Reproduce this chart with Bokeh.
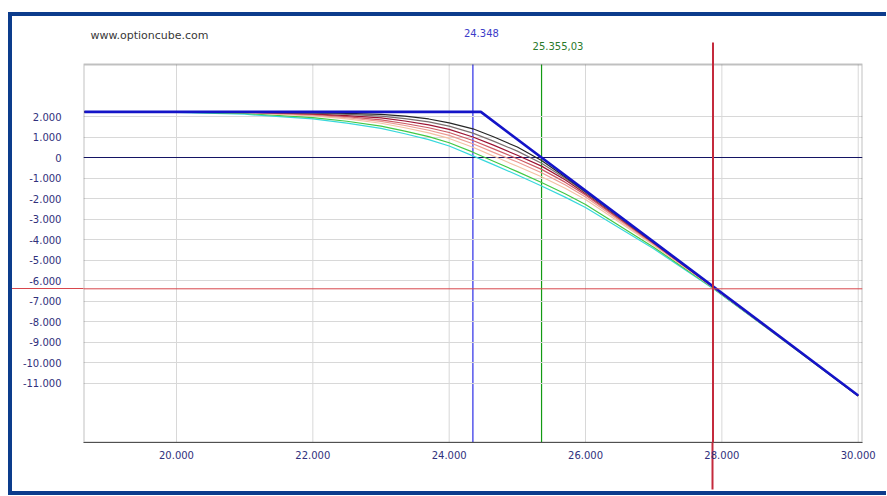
from bokeh.plotting import figure
from bokeh.models import Span, Label, BoxAnnotation, FixedTicker, Range1d, InlineStyleSheet
from bokeh.embed import file_html
from bokeh.resources import INLINE

# ---------------- data ----------------
x_ticks = [20000, 22000, 24000, 26000, 28000, 30000]
x_labels = ["20.000", "22.000", "24.000", "26.000", "28.000", "30.000"]
y_ticks = [2000, 1000, 0, -1000, -2000, -3000, -4000, -5000, -6000,
           -7000, -8000, -9000, -10000, -11000]
y_labels = ["2.000", "1.000", "0", "-1.000", "-2.000", "-3.000", "-4.000",
            "-5.000", "-6.000", "-7.000", "-8.000", "-9.000", "-10.000", "-11.000"]

spot = 24348
spot_label = "24.348"
breakeven = 25355.03
breakeven_label = "25.355,03"
cursor_x = 27870
cursor_y = -6405
site = "www.optioncube.com"

# payoff at expiry
expiry_x = [18650, 24465, 30000]
expiry_y = [2225, 2225, -11612]

# payoff curves before expiry (nearest to expiry first)
curve_x = [18650, 20000, 21000, 22000, 22500, 23000, 23350, 23700, 24000, 24348,
           24650, 25000, 25355, 25700, 26000, 27000, 27870, 29000, 30000]
curve_black = [2225, 2225, 2223, 2190, 2155, 2100, 2020, 1880, 1690, 1400,
               1010, 510, -150, -952, -1672, -4137, -6297, -9117, -11615]
curve_gray = [2225, 2225, 2220, 2160, 2100, 2020, 1900, 1740, 1530, 1190,
              800, 310, -280, -1012, -1712, -4152, -6301, -9120, -11617]
curve_darkred = [2225, 2224, 2217, 2130, 2045, 1930, 1780, 1590, 1370, 1000,
                 602, 110, -420, -1087, -1762, -4172, -6307, -9124, -11620]
curve_red = [2225, 2223, 2210, 2100, 1990, 1840, 1660, 1450, 1220, 830,
             420, -60, -580, -1202, -1832, -4197, -6315, -9128, -11622]
curve_salmon = [2225, 2222, 2205, 2070, 1940, 1760, 1560, 1330, 1080, 670,
                250, -222, -740, -1332, -1927, -4232, -6325, -9134, -11626]
curve_peach = [2225, 2220, 2190, 2030, 1880, 1670, 1450, 1200, 930, 500,
               70, -430, -940, -1502, -2052, -4277, -6337, -9142, -11630]
curve_green = [2225, 2215, 2150, 1950, 1770, 1530, 1290, 1020, 720, 260,
               -180, -690, -1220, -1767, -2292, -4377, -6362, -9152, -11634]
curve_cyan = [2225, 2205, 2110, 1880, 1680, 1420, 1160, 870, 560, 80,
              -348, -852, -1390, -1932, -2442, -4452, -6387, -9162, -11640]

curves = [
    (curve_cyan, "#38d8dc"),
    (curve_green, "#44c844"),
    (curve_peach, "#f4c2a4"),
    (curve_salmon, "#ec9a92"),
    (curve_red, "#cc5a64"),
    (curve_darkred, "#9c1434"),
    (curve_gray, "#7c7070"),
    (curve_black, "#262626"),
]

# ---------------- layout ----------------
W, H = 886, 495
FL, FR, FB = 83, 862, 442       # frame left / right / bottom (px); frame top = 0
PT = 64                          # top edge of the drawn plot box (px)
X0, X1 = 18636, 30063
Y_BOTTOM, Y_PLOT_TOP = -13902, 4537
UY = (Y_PLOT_TOP - Y_BOTTOM) / (FB - PT)   # data units per px (y)
UX = (X1 - X0) / (FR - FL)                 # data units per px (x)
Y1 = Y_PLOT_TOP + PT * UY

X_EXT = 47    # red cursor below the plot box (px)
Y_EXT = 72    # red cursor left of the plot box (px)


def dx(px):
    return X0 + (px - FL) * UX


def dy(py):
    return Y1 - py * UY


p = figure(width=W, height=H, x_range=Range1d(X0, X1), y_range=Range1d(Y_BOTTOM, Y1),
           output_backend="svg", toolbar_location=None,
           min_border_left=FL, min_border_right=W - FR,
           min_border_top=0, min_border_bottom=H - FB)
p.title.visible = False
p.background_fill_color = "white"
p.border_fill_color = "white"
p.outline_line_color = None

font = "DejaVu Sans"
axis_color = "#30307c"

p.xaxis.ticker = FixedTicker(ticks=x_ticks, minor_ticks=[cursor_x])
p.xaxis.major_label_overrides = {t: l for t, l in zip(x_ticks, x_labels)}
p.yaxis.ticker = FixedTicker(ticks=y_ticks, minor_ticks=[cursor_y])
p.yaxis.major_label_overrides = {t: l for t, l in zip(y_ticks, y_labels)}
for ax in (p.xaxis, p.yaxis):
    ax.major_tick_line_color = None
    ax.major_tick_in = 0
    ax.major_tick_out = 0
    ax.minor_tick_in = 0
    ax.major_label_text_font = font
    ax.major_label_text_font_size = "10px"
    ax.major_label_text_color = axis_color
    ax.axis_line_color = "#505050"
    ax.axis_line_width = 1
p.yaxis.axis_line_color = None
# red cursor extensions outside the plot box (as minor ticks)
p.xaxis.minor_tick_out = X_EXT
p.xaxis.minor_tick_line_color = "#c42a3c"
p.xaxis.minor_tick_line_width = 2
p.yaxis.minor_tick_out = Y_EXT
p.yaxis.minor_tick_line_color = "#d8464c"
p.yaxis.minor_tick_line_width = 1
# label offsets are measured from the longest tick, so compensate
p.xaxis.major_label_standoff = 8 - X_EXT
p.yaxis.major_label_standoff = 22 - Y_EXT

p.xgrid.visible = False
p.ygrid.grid_line_color = "#d8d8d8"
p.ygrid.grid_line_width = 1

# vertical grid lines limited to the plot box
p.segment(x0=x_ticks, y0=[Y_BOTTOM] * len(x_ticks), x1=x_ticks, y1=[Y_PLOT_TOP] * len(x_ticks),
          line_color="#d8d8d8", line_width=1, level="underlay")

# reference lines
p.add_layout(Span(location=0, dimension="width", line_color="#141464", line_width=1, level="underlay"))
p.segment(x0=[spot], y0=[Y_BOTTOM], x1=[spot], y1=[Y_PLOT_TOP], line_color="#2c2ce6",
          line_width=1.2, level="underlay")
p.segment(x0=[breakeven], y0=[Y_BOTTOM], x1=[breakeven], y1=[Y_PLOT_TOP], line_color="#139a13",
          line_width=1.2, level="underlay")

for ys, c in curves:
    p.line(curve_x, ys, line_color=c, line_width=1.2)

p.line(expiry_x, expiry_y, line_color="#1414c8", line_width=2.6)

# plot box
p.add_layout(BoxAnnotation(left=X0, right=X1, top=Y_PLOT_TOP, bottom=Y_BOTTOM,
                           fill_alpha=0, line_color="#303030", line_width=2, level="underlay"))

# cursor cross
p.add_layout(BoxAnnotation(left=cursor_x - 1.0 * UX, right=cursor_x + 1.0 * UX,
                           top=dy(42), bottom=Y_BOTTOM, fill_color="#c42a3c", fill_alpha=1,
                           line_color=None))
p.add_layout(Span(location=cursor_y, dimension="width", line_color="#d8464c", line_width=1))

# texts
p.add_layout(Label(x=dx(90), y=dy(35), text=site, text_font=font, text_font_size="11px",
                   text_color="#383838", text_baseline="middle", text_align="left"))
p.add_layout(Label(x=spot, y=dy(32), x_offset=-9, text=spot_label, text_font=font,
                   text_font_size="10px", text_color="#3c3cc8", text_baseline="middle",
                   text_align="left"))
p.add_layout(Label(x=breakeven, y=dy(45), x_offset=-9, text=breakeven_label, text_font=font,
                   text_font_size="10px", text_color="#2a7a2a", text_baseline="middle",
                   text_align="left"))

# outer blue frame (open on the right, as in the picture)
css = (":host{position:relative;}"
       ":host::after{content:'';position:absolute;left:8px;top:12px;width:878px;height:483px;"
       "box-sizing:border-box;border:4px solid #0c3c8c;border-right:none;pointer-events:none;}")
p.stylesheets = [InlineStyleSheet(css=css)]

open("out.html", "w").write(file_html(p, INLINE))
